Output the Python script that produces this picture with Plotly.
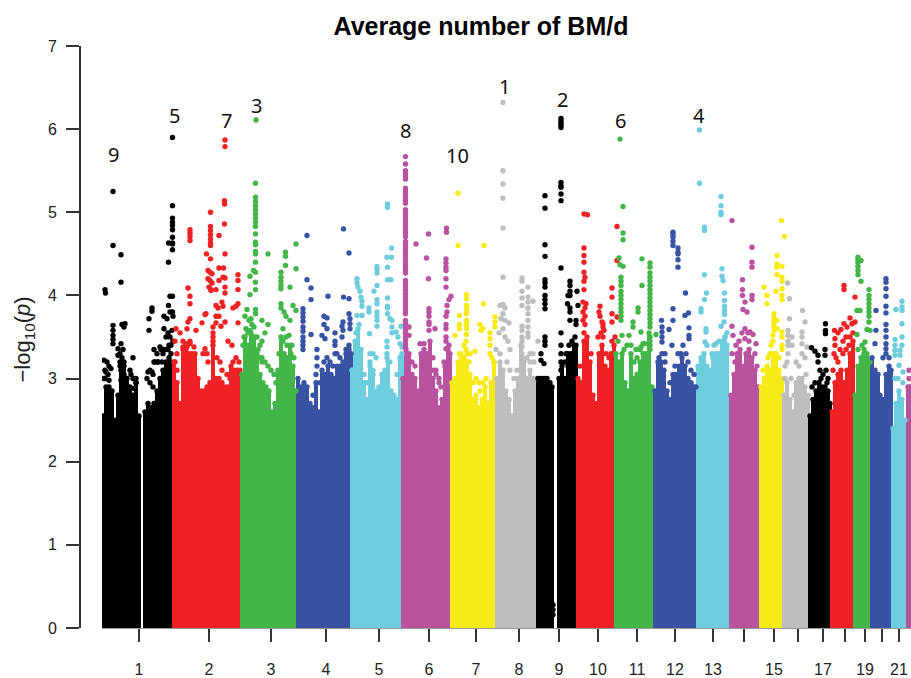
import plotly.graph_objects as go

# Genome position axis (arbitrary cumulative units), -log10(p) values.
tick_pos = [139,209,271,326,379,429,476,519,559,598,637,675,713,744,774,798,823,845,865,882,899]
tick_txt = ["1","2","3","4","5","6","7","8","9","10","11","12","13","","15","","17","","19","","21"]
palette = ["#000000","#EE2224","#43B649","#3953A4","#6ECDDD","#B9529F","#F6EB16","#BCBEC0"]

peak_labels = ["9","5","7","3","8","10","1","2","6","4"]
peak_x = [113,174,226,256,405,457,504,562,620,699]
peak_y = [5.69,6.17,6.10,6.29,5.98,5.68,6.51,6.36,6.11,6.17]

c1_x = [103,106,109,112,115,118,121,124,127,130,133,136,139,145,148,151,154,157,160,163,166,169,171]
c1_t = [2.55,2.9,2.9,2.85,2.5,2.8,3.1,3.15,3.0,2.9,2.8,2.95,2.55,2.6,2.7,2.65,2.7,2.85,3.0,3.1,3.2,3.25,3.2]
c1_dx = [113,113,121,121,105,105.5,113,113,113,113,113,122,124,125,104,107,109,106,104,118,120,122,124,121,118,126,133,136,149,149,152,152,168.5,168.5,172.5,172.5,172.5,172.5,172.5,172.5,172.5,172.5,172.5,172.5,168.5,170,172.5,172.5,164,167,170,173,164,168,172,166,170,173,150,153,155,158,161,163,168,171,121,123,120,122,124,120,122,130,133,136,131,134,148,152,147,150,153,154,157,160,163,166,154,158,162,166,169,171,105,108,111,105,109]
c1_dy = [5.25,4.60,4.49,4.16,4.07,4.03,3.64,3.58,3.52,3.47,3.42,3.65,3.62,3.66,3.22,3.2,3.15,3.08,3.0,3.28,3.2,3.12,3.05,2.98,3.36,3.0,3.25,3.0,3.72,3.58,3.85,3.81,4.40,3.88,5.90,5.08,4.93,4.88,4.84,4.79,4.70,4.63,4.62,4.55,4.63,3.99,3.99,3.8,3.75,3.72,3.8,3.75,3.6,3.55,3.58,3.5,3.5,3.45,3.1,3.05,3.2,3.2,3.35,3.3,3.35,3.4,3.42,3.35,3.3,3.25,3.2,3.15,3.05,3.1,3.0,2.95,3.05,2.88,3.08,3.08,3.0,2.95,2.9,3.35,3.3,3.38,3.35,3.35,3.2,3.2,3.2,3.1,3.4,3.3,3.1,3.05,3.12,3.0,2.98]

c2_x = [174,177,180,183,186,189,192,195,198,201,204,207,210,213,216,219,222,225,228,231,234,237,240]
c2_t = [3.2,2.95,2.7,3.35,3.35,3.3,3.3,3.3,3.0,2.85,2.85,2.9,2.95,3.4,3.0,3.0,2.95,2.9,2.9,3.15,3.1,3.1,3.1]
c2_dx = [190,190,190,190,210.5,210.5,210.5,210.5,210.5,210.5,210.5,206.5,210.5,208,210,212,208,210,212,209,211,225,225,224.5,224.5,224.5,219,225,219,223.5,219,223,225,225,225,238,238,238,216,211,188,190,190,190,188,206,205,216,218,222,223,238,236,233,216,219,225,216,221,238,176,183,187,190,196,202,213,213,213,213,180,183,186,232,228,175,177,175,177,203,205,207,208,217,220,222,227,230,233,236,239,187,190,194]
c2_dy = [4.79,4.75,4.71,4.66,5.0,4.83,4.78,4.73,4.68,4.63,4.6,4.5,4.44,4.3,4.28,4.26,4.2,4.18,4.15,4.1,4.06,5.87,5.79,5.14,5.10,4.86,4.72,4.50,4.33,4.33,4.18,4.22,4.21,4.10,4.03,4.25,4.18,4.07,4.07,4.07,4.09,3.99,3.90,3.72,3.68,3.78,3.77,3.88,3.85,3.92,3.87,3.9,3.87,3.85,3.75,3.75,3.68,3.67,3.63,3.67,3.6,3.45,3.6,3.45,3.58,3.67,3.62,3.55,3.5,3.45,3.55,3.38,3.42,3.4,3.45,3.45,3.3,3.2,3.1,3.3,3.36,3.3,3.2,3.25,3.2,3.1,3.05,3.0,3.2,3.25,3.2,3.38,3.42,3.38]

c3_x = [242,245,248,251,254,257,260,263,266,269,272,275,278,281,284,287,290,293,296]
c3_t = [3.05,3.5,3.4,3.55,3.5,3.3,3.05,2.95,2.9,2.85,2.6,2.7,3.1,3.5,3.3,3.25,3.4,3.15,2.85]
c3_dx = [256,255.5,255.5,255.5,255.5,255.5,255.5,255.5,255.5,255.5,255.5,255.5,255.5,255.5,255.5,255.5,255.5,255.5,255.5,250,253.5,250,268,285.5,285.5,285.5,296,296,281,281,281,281,281,290,293,296,281,281,284,286,290,247,255.5,255.5,262,268,243,246,249,252,245,248,251,254,257,260,244,250,255,262,265,283,286,289,292,262,265,268,271,274,258,260,262,276,279,283,287,291,294]
c3_dy = [6.11,5.35,5.18,5.13,5.08,5.03,4.98,4.93,4.88,4.83,4.74,4.64,4.61,4.53,4.50,4.40,4.28,4.16,4.07,4.23,4.3,4.01,4.50,4.52,4.47,4.36,4.62,4.32,4.28,4.22,4.17,4.12,4.08,4.1,3.88,3.82,3.9,3.85,3.8,3.75,3.7,3.83,3.83,3.78,3.7,3.65,3.4,3.6,3.7,3.65,3.75,3.55,3.72,3.62,3.5,3.4,3.5,3.58,3.5,3.45,3.55,3.6,3.5,3.52,3.4,3.25,3.2,3.15,3.1,3.05,3.35,3.25,3.2,2.95,3.3,3.45,3.4,3.3,3.25]

c4_x = [298,301,304,307,310,313,316,319,322,325,328,331,334,337,340,343,346,349,351]
c4_t = [3.0,2.9,2.95,2.9,2.7,2.65,2.95,2.6,3.1,3.05,3.15,3.05,3.0,3.15,3.15,3.2,3.3,3.35,3.3]
c4_dx = [303,303,303,303,303,303,303,303,303,303,311,307,307,311,311,328,343.5,349,343.5,349,349,324,327,324,327,322,325,335,335,335,335,343,342,343,342,350,350,350,349,346,317,317,317,324,327,330,333,337,340,316,313,320]
c4_dy = [3.84,3.79,3.74,3.69,3.62,3.57,3.5,3.45,3.4,3.35,3.53,4.72,4.19,4.09,3.95,3.99,4.80,4.51,3.98,3.96,3.78,3.75,3.73,3.65,3.6,3.52,3.48,3.55,3.45,3.4,3.3,3.68,3.63,3.58,3.5,3.72,3.66,3.6,3.4,3.35,3.35,3.25,3.15,3.2,3.25,3.2,3.15,3.3,3.25,3.05,2.8,2.95]

c5_x = [352,355,358,361,364,367,370,373,376,379,382,385,388,391,394,397,400,402]
c5_t = [3.1,3.45,3.6,3.35,2.95,2.75,3.15,3.1,2.85,2.9,3.05,3.1,3.2,2.85,2.8,2.75,3.25,3.3]
c5_dx = [357,357,358,360,361,362,362,357,362,369,369,369.5,377,377,377,374,377,377,377,377,377,377,377,387.5,387.5,391.5,387,391.5,387.5,387.5,391,387.5,387.5,387.5,387.5,390,392,392,392,396,401,398,370,373,376,387,387,387,387,390,370,373,367,364,397,400,402,356,359]
c5_dy = [4.2,4.15,4.1,4.05,3.98,3.93,3.87,3.76,3.76,3.85,3.8,3.54,4.35,4.31,4.27,4.05,4.12,3.95,3.9,3.8,3.75,3.7,3.63,5.10,5.06,4.57,4.46,4.46,4.34,4.19,4.19,3.97,3.87,3.85,3.78,3.72,3.7,3.62,3.55,3.56,3.63,3.5,3.3,3.3,3.25,3.45,3.38,3.3,3.25,3.2,3.2,3.05,2.95,3.05,3.05,3.42,3.38,3.55,3.65]

c6_x = [403,406,409,412,415,418,421,424,427,430,433,436,439,442,445,448,450]
c6_t = [3.0,3.35,3.3,3.05,3.0,2.85,3.3,3.35,3.3,3.45,3.0,2.85,2.65,2.75,3.15,3.35,3.3]
c6_dx = [405.5]*52 + [416,428.5,426.5,428.5,446.5,446.5,446,446,446,446,446,446,451,449,447,447,446,446,446,446,446,449,446,429,429,429,429,429,429,435,409,409,420,424,412,415,436,439,433,436,441,444,433,439]
c6_dy = [5.67,5.58,5.5,5.46,5.43,5.40,5.29,5.25,5.21,5.17,5.14,5.11,5.03,4.99,4.95,4.91,4.87,4.83,4.79,4.75,4.71,4.65,4.61,4.57,4.53,4.49,4.45,4.41,4.37,4.33,4.29,4.27,4.18,4.14,4.1,4.06,4.02,3.98,3.94,3.9,3.86,3.82,3.78,3.7,3.66,3.62,3.58,3.54,3.5,3.46,3.42,3.38,4.62,4.74,4.45,4.2,4.81,4.76,4.44,4.39,4.34,4.3,4.2,4.1,3.99,3.95,3.88,3.8,3.75,3.65,3.6,3.5,3.45,3.4,3.36,3.84,3.8,3.75,3.68,3.65,3.58,3.6,3.62,3.52,3.42,3.42,3.2,3.15,3.1,3.0,3.25,3.05,2.9,3.2,3.1,2.95]

c7_x = [452,455,458,461,464,467,470,473,476,479,482,485,488,491,494]
c7_t = [2.95,3.0,3.2,3.3,3.25,3.2,3.05,2.75,2.8,2.65,2.75,2.9,2.7,2.95,3.2]
c7_dx = [458,458,484,466.5,466.5,466.5,466.5,466.5,466.5,466.5,466.5,466.5,459.5,459.5,459.5,455,459.5,483.5,480,481,483,490,490,490,490,492,494,495,495,495,475,466,464,466,470,479,476,480,483,473,486,467,469]
c7_dy = [5.23,4.60,4.60,4.01,3.96,3.88,3.83,3.78,3.7,3.65,3.6,3.53,3.76,3.65,3.6,3.52,3.3,3.9,3.65,3.58,3.6,3.55,3.48,3.4,3.3,3.25,3.2,3.74,3.68,3.62,3.33,3.45,3.4,3.35,3.3,2.95,3.0,2.85,2.95,2.95,3.0,3.3,3.2]

c8_x = [497,500,503,506,509,512,515,518,521,524,527,530,533,536]
c8_t = [3.0,3.2,3.1,2.85,2.75,2.55,2.85,3.0,3.4,3.2,3.0,3.1,3.0,3.0]
c8_dx = [503,503,503,503,503,503,522,522,522,528,522,522,528,528,528,528,528,528,528,528,533,522,522,522,522,522,522,522,522,538,500,503,505,503,501,505,509,503,505,499,508,510,500,496,533,530,507,510,527,530,534,514,517]
c8_dy = [6.32,5.50,5.34,5.17,4.81,4.22,4.21,4.17,4.05,4.1,3.97,3.88,3.98,3.92,3.85,3.78,3.7,3.62,3.55,3.5,3.93,3.63,3.58,3.5,3.45,3.38,3.3,3.25,3.18,3.45,3.88,3.89,3.85,3.78,3.72,3.7,3.67,3.6,3.5,3.55,3.45,3.35,3.3,3.35,3.3,3.2,3.2,3.1,3.25,3.3,3.2,3.0,3.1]

c9_x = [538,541,544,547,550,552,559,562,565,568,571,574,576]
c9_t = [3.0,3.0,3.0,3.0,2.95,2.9,3.0,3.15,3.0,3.3,3.3,3.4,3.4]
c9_dx = [545,545,545,545,545,545,545,545,545,545,545,561,561,561,561,561,561,561,561,561,561,561,570,570,570,570,577,568,567.5,570,570,578,576,576,570,561,545,545,545,541,541,544,561,561,561,561,553,553,553,566,569,572,575,565,568,571]
c9_dy = [5.2,5.05,4.61,4.47,4.19,4.15,4.1,4.0,3.95,3.9,3.84,6.13,6.1,6.07,6.05,6.02,5.36,5.32,5.3,5.22,5.14,4.33,4.17,4.12,4.05,4.0,4.05,4.0,3.9,3.85,3.8,3.88,3.7,3.65,3.7,3.55,3.5,3.45,3.4,3.3,3.22,3.18,3.4,3.3,3.2,3.1,0.28,0.22,0.16,3.3,3.4,3.45,3.5,3.2,3.15,3.15]

c10_x = [578,581,584,587,590,593,596,599,602,605,608,611,614]
c10_t = [3.0,2.95,3.45,3.5,3.2,2.8,2.7,3.3,3.4,3.15,3.1,3.3,3.4]
c10_dx = [584,587.5,584,584,584,584,585,584,584,583,586,585,583,585,583,585,584,600,599,600,602,603,598,617,617,612,612,612,612,617,603,604,603,609,612,615,591,606,580,601]
c10_dy = [4.98,4.97,4.57,4.48,4.4,4.28,4.22,4.17,4.07,3.92,3.9,3.85,3.8,3.75,3.7,3.65,3.55,3.87,3.8,3.75,3.68,3.62,3.5,4.83,4.42,4.09,3.98,3.78,3.68,3.74,3.66,3.58,3.5,3.25,3.45,3.5,3.3,3.3,3.15,3.55]

c11_x = [616,619,622,625,628,631,634,637,640,643,646,649,652]
c11_t = [3.3,3.2,3.3,2.95,2.85,3.3,3.0,3.05,3.2,3.3,3.3,3.55,2.9]
c11_dx = [620,623,623,623,619,620,623]+[621]*11+[622,629,633,633,642,642,638,638,641]+[650]*20+[656,627,631,636,641,645,618,624,634,637,640,643]
c11_dy = [5.88,5.07,4.75,4.67,4.45,4.37,4.35,4.22,4.17,4.12,4.05,4.0,3.95,3.9,3.85,3.8,3.75,3.7,3.52,3.52,3.68,3.62,4.44,4.12,3.85,3.8,3.56,4.39,4.34,4.27,4.22,4.17,4.12,4.07,4.02,3.97,3.92,3.87,3.82,3.77,3.72,3.67,3.62,3.5,3.45,3.4,3.35,3.53,3.4,3.4,3.35,3.38,3.42,3.45,3.35,3.2,3.25,3.35,3.42]

c12_x = [655,658,661,664,667,670,673,676,679,682,685,688,691,694,696]
c12_t = [2.85,3.2,3.2,3.1,2.85,2.75,3.05,3.05,3.15,3.25,3.15,3.0,2.95,2.9,2.9]
c12_dx = [673,673,673,673,673,678,678,678,678,678,685.5,673,673,661.5,662,662,662,662,669,688.5,685,689,689,689,672,683,665,678,681,686,659,662,665,688,691,694,675,670]
c12_dy = [4.76,4.73,4.7,4.65,4.6,4.57,4.52,4.5,4.43,4.34,4.03,3.84,3.7,3.7,3.62,3.56,3.5,3.44,3.59,3.79,3.76,3.61,3.52,3.48,3.4,3.4,3.3,3.3,3.3,3.3,3.25,3.3,3.2,3.2,3.1,3.05,3.15,2.95]

c13_x = [698,701,704,707,710,713,716,719,722,725,727]
c13_t = [3.15,3.25,3.3,3.15,3.1,3.25,3.3,3.3,3.45,3.5,3.4]
c13_dx = [699.5,699.5,704.5,704.5,721,721,721,721,704.5,706.5,704.5,701,701,722,722,723,724.5,724.5,724.5,724.5,724.5,721,724,706,706,705,707,725,716,719,712,714,727]
c13_dy = [5.99,5.35,4.82,4.78,5.19,5.08,5.0,4.97,4.25,4.03,3.95,3.84,3.8,4.32,4.23,4.18,4.03,3.94,3.87,3.82,3.77,3.63,3.68,3.6,3.56,3.44,3.4,3.5,3.42,3.45,3.3,3.4,3.55]

c14_x = [731,734,737,740,743,746,749,752,755,758]
c14_t = [2.8,3.05,3.3,3.35,3.15,3.3,3.35,3.25,3.1,2.9]
c14_dx = [732,752,752,752,742.5,742.5,742.5,752,752,745,743,747,732,733,745,750,753,745,756,736,739,749,732,735,742,748,755,757]
c14_dy = [4.9,4.58,4.4,4.34,4.19,4.07,4.0,4.0,3.95,3.92,3.83,3.8,3.63,3.52,3.6,3.56,3.53,3.48,3.42,3.4,3.45,3.45,3.3,3.2,3.55,3.55,3.3,3.15]

c15_x = [761,764,767,770,773,776,779,782]
c15_t = [2.9,3.0,3.15,3.1,3.3,3.3,3.1,3.0]
c15_dx = [781.5,784.5,777,777,777,777,782,782,782,782,782,782,764,767,767,776,774,774,774,774,774,777,777,773,773,782,782,782,782,771,768,770,779,763]
c15_dy = [4.9,4.71,4.48,4.38,4.34,4.25,4.35,4.22,4.17,4.08,4.0,3.95,4.1,4.0,3.9,4.05,3.78,3.73,3.68,3.63,3.58,3.7,3.6,3.52,3.45,3.56,3.5,3.4,3.35,3.4,3.25,3.3,3.25,3.1]

c16_x = [784,787,790,793,796,799,802,805,808]
c16_t = [2.8,2.95,2.75,2.6,2.95,3.0,3.0,2.9,2.8]
c16_dx = [787.5,789.5,789.5,802.5,805,788,788,788,788,788,792,792,802,802,802,807,802,805,796,785,787,799,785,791,794,806]
c16_dy = [4.15,3.96,3.72,3.82,3.68,3.58,3.52,3.45,3.4,3.3,3.5,3.4,3.56,3.5,3.42,3.38,3.3,3.25,3.2,3.15,3.2,3.15,3.0,3.0,2.8,3.05]

c17_x = [810,813,816,819,822,825,828,830]
c17_t = [2.55,2.75,2.85,2.95,2.9,2.9,2.85,2.7]
c17_dx = [825.5,825.5,825.5,811.5,815,818,825,825,818,820,823,826,828,812,815,821,827]
c17_dy = [3.66,3.58,3.54,3.37,3.33,3.28,3.35,3.28,3.2,3.1,3.05,3.1,3.0,2.9,2.95,3.0,2.95]

c18_x = [832,835,838,841,844,847,850,853]
c18_t = [2.6,2.95,3.05,3.1,2.95,3.1,3.3,3.45]
c18_dx = [844,844,855,850,855,841,847,844,852,838,846,850,843,834.5,835,835,834,836,853,840,843,846,849,838,833]
c18_dy = [4.12,4.07,3.98,3.73,3.68,3.59,3.62,3.66,3.66,3.55,3.5,3.5,3.45,3.58,3.48,3.4,3.3,3.25,3.55,3.35,3.3,3.35,3.4,3.2,3.1]

c19_x = [855,858,861,864,867,870]
c19_t = [2.8,3.15,3.25,3.3,3.3,3.2]
c19_dx = [858,858,858,858,858,858,861,861,869,869,869,869,869,869,869,857,860,869,867,870,857,865,864,858,862]
c19_dy = [4.46,4.43,4.4,4.35,4.3,4.25,4.42,4.17,4.07,4.0,3.95,3.9,3.85,3.8,3.75,3.82,3.82,3.68,3.59,3.58,3.53,3.44,3.35,3.35,3.4]

c20_x = [872,875,878,880,883,886,889,891]
c20_t = [3.25,3.1,3.05,2.8,2.75,3.05,3.15,3.1]
c20_dx = [886,886,886,886,886,886,886,886,886,886,886,886,876,876,875,889,883]
c20_dy = [4.2,4.16,4.08,3.99,3.87,3.79,3.65,3.58,3.5,3.42,3.36,3.3,3.82,3.58,3.42,3.25,3.25]

c21_x = [893,896,899,902,905]
c21_t = [2.4,2.7,2.85,2.75,2.5]
c21_dx = [902,902,902,896,902,902,895,895,902,895,895,900,900,899,903,895,898,903]
c21_dy = [3.93,3.86,3.82,3.83,3.66,3.5,3.47,3.4,3.4,3.34,3.28,3.34,3.28,3.16,3.08,3.0,3.0,2.95]

c22_x = [908,911]
c22_t = [2.9,2.9]
c22_dx = [909,909,909]
c22_dy = [3.1,3.0,2.9]

chrom_x = [c1_x,c2_x,c3_x,c4_x,c5_x,c6_x,c7_x,c8_x,c9_x,c10_x,c11_x,c12_x,c13_x,c14_x,c15_x,c16_x,c17_x,c18_x,c19_x,c20_x,c21_x,c22_x]
chrom_t = [c1_t,c2_t,c3_t,c4_t,c5_t,c6_t,c7_t,c8_t,c9_t,c10_t,c11_t,c12_t,c13_t,c14_t,c15_t,c16_t,c17_t,c18_t,c19_t,c20_t,c21_t,c22_t]
dot_x = [c1_dx,c2_dx,c3_dx,c4_dx,c5_dx,c6_dx,c7_dx,c8_dx,c9_dx,c10_dx,c11_dx,c12_dx,c13_dx,c14_dx,c15_dx,c16_dx,c17_dx,c18_dx,c19_dx,c20_dx,c21_dx,c22_dx]
dot_y = [c1_dy,c2_dy,c3_dy,c4_dy,c5_dy,c6_dy,c7_dy,c8_dy,c9_dy,c10_dy,c11_dy,c12_dy,c13_dy,c14_dy,c15_dy,c16_dy,c17_dy,c18_dy,c19_dy,c20_dy,c21_dy,c22_dy]

fig = go.Figure()
for i in range(22):
    col = palette[i % 8]
    fig.add_trace(go.Bar(x=chrom_x[i], y=chrom_t[i], width=3.3, marker=dict(color=col, line=dict(width=0)),
                         showlegend=False, name=f"chr{i+1}"))
for i in range(22):
    col = palette[i % 8]
    n = min(len(dot_x[i]), len(dot_y[i]))
    fig.add_trace(go.Scatter(x=chrom_x[i] + dot_x[i][:n], y=chrom_t[i] + dot_y[i][:n], mode="markers",
                             marker=dict(color=col, size=5.4, line=dict(width=0)), showlegend=False,
                             name=f"chr{i+1} SNPs"))

W, H = 911, 678
annots = [dict(x=a, y=b, text=t, xref="x", yref="y", showarrow=False, xanchor="center", yanchor="middle",
               font=dict(family="Noto Sans", size=20, color="#111111"))
          for a, b, t in zip(peak_x, peak_y, peak_labels)]
annots.append(dict(x=24/W, y=1-342/H, xref="paper", yref="paper", xanchor="center", yanchor="middle", showarrow=False,
                   textangle=-90, text="\u2212log<sub>10</sub>(<i>p</i>)",
                   font=dict(size=22, family="Liberation Sans", color="#222222")))

fig.update_layout(
    width=W, height=H, barmode="overlay", bargap=0,
    margin=dict(l=0, r=0, t=46, b=50, autoexpand=False),
    paper_bgcolor="white", plot_bgcolor="white",
    font=dict(family="Liberation Sans", color="#222222"),
    title=dict(text="<b>Average number of BM/d</b>", x=481/W, xanchor="center", xref="container",
               y=1-26/H, yanchor="middle", yref="container",
               font=dict(family="Liberation Sans", size=25, color="#000000")),
    xaxis=dict(domain=[102/W, 1], range=[102, 911], showgrid=False, zeroline=False, showline=True,
               linecolor="#999999", linewidth=1, ticks="outside", ticklen=13, tickwidth=1.5, tickcolor="#333333",
               tickmode="array", tickvals=tick_pos, ticktext=tick_txt, tickangle=0,
               tickfont=dict(size=16, family="Liberation Sans", color="#222222"), ticklabelstandoff=14),
    yaxis=dict(range=[0, 7], anchor="free", position=80/W, showgrid=False, zeroline=False, showline=True,
               linecolor="#333333", linewidth=2, ticks="outside", ticklen=13, tickwidth=1.5, tickcolor="#333333",
               tickmode="array", tickvals=[0,1,2,3,4,5,6,7], tickangle=0,
               tickfont=dict(size=16, family="Liberation Sans", color="#222222"), ticklabelstandoff=6),
    annotations=annots,
)
fig.write_html("out.html", config={"displayModeBar": False},
               post_script="document.body.style.margin='0';document.documentElement.style.overflow='hidden';")
